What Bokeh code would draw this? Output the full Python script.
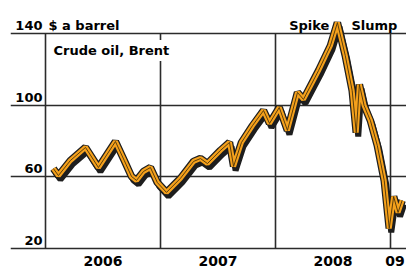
import pandas as pd
import numpy as np
from bokeh.plotting import figure
from bokeh.models import Label, FixedTicker, Range1d, Grid
from bokeh.embed import file_html
from bokeh.resources import INLINE

# ---------------- data ----------------
dates = ["2006-01-26", "2006-02-11", "2006-03-21", "2006-05-08", "2006-06-18",
         "2006-08-11", "2006-09-08", "2006-10-01", "2006-10-17", "2006-11-08",
         "2006-11-30", "2006-12-22", "2007-01-20", "2007-03-05", "2007-04-16",
         "2007-05-08", "2007-05-30", "2007-07-10", "2007-08-08", "2007-08-21",
         "2007-09-15", "2007-10-20", "2007-11-24", "2007-12-13", "2008-01-13",
         "2008-02-08", "2008-03-11", "2008-03-30", "2008-05-17", "2008-06-24",
         "2008-07-16", "2008-08-10", "2008-09-01", "2008-09-14", "2008-09-24",
         "2008-10-09", "2008-10-29", "2008-11-20", "2008-12-12", "2008-12-28",
         "2009-01-11", "2009-01-25", "2009-02-07"]
brent = [64.6, 60.7, 69.1, 76.4, 65.2,
         79.7, 69.1, 60.2, 58.0, 63.0,
         65.2, 56.8, 51.3, 59.1, 68.6,
         70.2, 67.4, 74.7, 79.2, 65.8,
         79.2, 88.6, 97.0, 89.8, 98.7,
         85.9, 107.1, 103.2, 119.3, 133.3,
         146.1, 127.7, 108.2, 84.7, 111.5,
         99.8, 91.4, 77.5, 58.0, 31.2,
         49.0, 40.1, 46.8]
year_starts = [2006, 2007, 2008, 2009]
year_labels = ["2006", "2007", "2008", "09"]
y_ticks = [20, 60, 100, 140]
y_tick_labels = ["20", "60", "100", "140"]
unit_label = "$ a barrel"
series_label = "Crude oil, Brent"
phase_labels = ["Spike", "Slump"]

# ---------------- layout constants ----------------
W, H = 406, 268
BORDER_L = 10
PX_YEAR = 115.0           # pixels per year
X0_PX = 35.0              # frame px of first year start
frame_w = W - BORDER_L
frame_h = H
GRID_TOP_PX = 33.0        # frame px of top gridline (from top)
BOTTOM_PAD_PX = 20.0      # frame px below the lowest gridline (room for year labels)
px_unit = (frame_h - GRID_TOP_PX - BOTTOM_PAD_PX) / (max(y_ticks) - min(y_ticks))

x_start = year_starts[0] - X0_PX / PX_YEAR
x_end = year_starts[0] + (frame_w - X0_PX) / PX_YEAR
y_start = min(y_ticks) - BOTTOM_PAD_PX / px_unit
y_end = max(y_ticks) + GRID_TOP_PX / px_unit

d = pd.to_datetime(pd.Series(dates))
ndays = np.where(d.dt.is_leap_year, 366, 365)
xs = (d.dt.year + (d.dt.dayofyear - 1) / ndays).to_numpy()
ys = np.array(brent)

FONT = "DejaVu Sans"
DARK = "#2b2b2b"
ORANGE = "#f5a11c"

p = figure(width=W, height=H, output_backend="svg", toolbar_location=None,
           x_range=Range1d(x_start, x_end), y_range=Range1d(y_start, y_end),
           x_axis_location=None, y_axis_location=None,
           min_border_left=BORDER_L, min_border_right=0,
           min_border_top=0, min_border_bottom=0)
p.outline_line_color = None
p.background_fill_color = "white"
p.border_fill_color = "white"
p.grid.visible = False

hgrid = Grid(dimension=1, ticker=FixedTicker(ticks=y_ticks),
             grid_line_color=DARK, grid_line_width=1.6)
p.add_layout(hgrid, "center")

# vertical year lines from lowest to highest gridline
p.segment(x0=year_starts, y0=[min(y_ticks)] * len(year_starts),
          x1=year_starts, y1=[max(y_ticks)] * len(year_starts),
          line_color=DARK, line_width=1.6)

# line with shadow
dx = 2.0 / PX_YEAR
dy = -4.0 / px_unit
p.line(xs + dx, ys + dy, line_color="#1e1e1e", line_width=6)
p.line(xs, ys, line_color="#1e1e1e", line_width=7.5)
p.line(xs, ys, line_color=ORANGE, line_width=5)
p.line(xs, ys, line_color="#4a3208", line_width=0.9)

LBL = dict(text_font=FONT, text_font_style="bold", text_font_size="13px",
           text_color="black", text_baseline="alphabetic")

# x labels below the bottom line (mid-year, last one just after the year start)
label_pos = [y + 0.5 for y in year_starts[:-1]] + [year_starts[-1] + 0.04]
for xp, t in zip(label_pos, year_labels):
    p.add_layout(Label(x=xp, y=min(y_ticks), text=t, text_align="center",
                       y_offset=-12, **dict(LBL, text_font_size="14px")))

# y labels above gridlines
for v, t in zip(y_ticks, y_tick_labels):
    p.add_layout(Label(x=X0_PX - 3, x_units="screen", y=v, y_units="data", text=t,
                       text_align="right", y_offset=8, **LBL))

p.add_layout(Label(x=year_starts[0], y=max(y_ticks), text=unit_label, x_offset=3,
                   y_offset=8, text_align="left", **LBL))
p.add_layout(Label(x=year_starts[0], y=max(y_ticks), text=series_label, x_offset=5,
                   y_offset=-17, text_align="left", background_fill_color="white",
                   background_fill_alpha=1.0, padding=3, **LBL))

peak_x = xs[int(np.argmax(ys))]
p.add_layout(Label(x=peak_x, y=max(y_ticks), text=phase_labels[0], x_offset=-8,
                   y_offset=8, text_align="right", **LBL))
p.add_layout(Label(x=peak_x, y=max(y_ticks), text=phase_labels[1], x_offset=14,
                   y_offset=8, text_align="left", **LBL))

open("out.html", "w").write(file_html(p, INLINE))
